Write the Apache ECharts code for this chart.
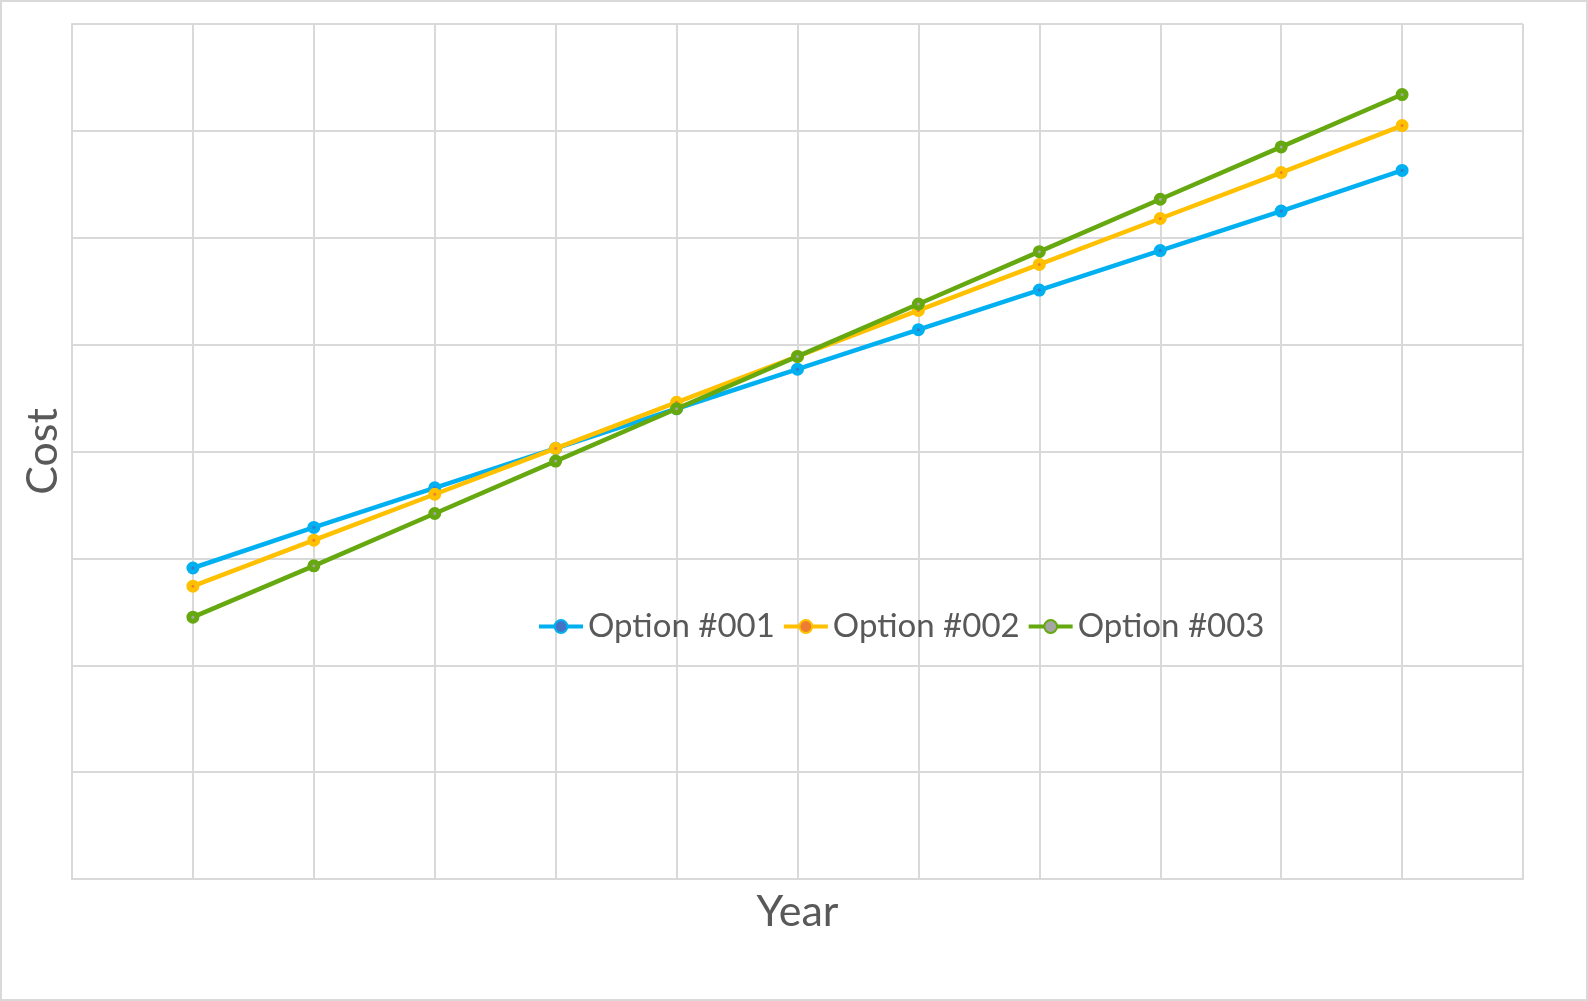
<!DOCTYPE html>
<html>
<head>
<meta charset="utf-8">
<script src="https://cdn.jsdelivr.net/npm/echarts@6/dist/echarts.min.js"></script>
<style>
html,body{margin:0;padding:0;background:#fff;}
#chart{width:1588px;height:1001px;}
</style>
</head>
<body>
<div id="chart"></div>
<script>
const years = [1, 2, 3, 4, 5, 6, 7, 8, 9, 10, 11];
const seriesNames = ['Option #001', 'Option #002', 'Option #003'];
const option001 = [2.91, 3.29, 3.66, 4.03, 4.40, 4.77, 5.14, 5.51, 5.88, 6.25, 6.63];
const option002 = [2.74, 3.17, 3.60, 4.03, 4.46, 4.89, 5.32, 5.75, 6.18, 6.61, 7.05];
const option003 = [2.45, 2.93, 3.42, 3.91, 4.40, 4.89, 5.38, 5.87, 6.36, 6.85, 7.34];
const lineColors = ['#00B0F0', '#FFC000', '#66A80F'];
const centerColors = ['#4472C4', '#ED7D31', '#A5A5A5'];
const values = [option001, option002, option003];

const chart = echarts.init(document.getElementById('chart'), null, {renderer: 'canvas'});
const FONT = 'Lato';
const gridStyle = {color: '#D9D9D9', width: 2};

chart.setOption({
  backgroundColor: '#fff',
  animation: false,
  textStyle: {fontFamily: FONT},
  graphic: [{
    type: 'rect',
    shape: {x: 1, y: 1, width: 1586, height: 999},
    style: {fill: 'none', stroke: '#D9D9D9', lineWidth: 2},
    silent: true
  }],
  grid: {left: 72, top: 24, right: 65, bottom: 122, containLabel: false},
  legend: {
    left: 532, top: 605,
    itemWidth: 44, itemHeight: 16, itemGap: 7,
    lineStyle: {width: 4},
    textStyle: {fontFamily: FONT, fontSize: 33, color: '#595959'},
    data: seriesNames
  },
  xAxis: {
    type: 'value', min: 0, max: 12, interval: 1,
    name: 'Year', nameLocation: 'middle', nameGap: 12,
    nameTextStyle: {fontFamily: FONT, fontSize: 43, color: '#595959'},
    axisLine: {show: true, lineStyle: gridStyle},
    axisTick: {show: false}, axisLabel: {show: false},
    splitLine: {show: true, lineStyle: gridStyle}
  },
  yAxis: {
    type: 'value', min: 0, max: 8, interval: 1,
    name: 'Cost', nameLocation: 'middle', nameGap: 7,
    nameTextStyle: {fontFamily: FONT, fontSize: 43, color: '#595959'},
    axisLine: {show: true, lineStyle: gridStyle},
    axisTick: {show: false}, axisLabel: {show: false},
    splitLine: {show: true, lineStyle: gridStyle}
  },
  series: seriesNames.map((name, i) => ({
    name: name,
    type: 'line',
    data: years.map((y, j) => [y, values[i][j]]),
    symbol: 'circle',
    symbolSize: 8,
    showSymbol: true,
    lineStyle: {color: lineColors[i], width: 4.5},
    itemStyle: {color: centerColors[i], borderColor: lineColors[i], borderWidth: 5},
    emphasis: {disabled: true},
    z: 2 + i
  }))
});
</script>
</body>
</html>
